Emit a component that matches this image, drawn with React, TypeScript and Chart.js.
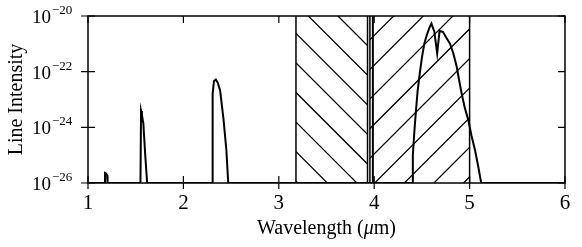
import React, { useEffect, useRef } from "react";
import { Chart, registerables } from "chart.js";

Chart.register(...registerables);

// Wavelength (µm) and line intensity
const wavelength = [
  1.0, 1.175, 1.178, 1.19, 1.2, 1.205,
  1.55, 1.556, 1.565, 1.58, 1.6, 1.62,
  2.3, 2.303, 2.31, 2.32, 2.34, 2.36, 2.385, 2.42, 2.45, 2.47,
  3.983, 3.985, 3.987,
  4.4, 4.405, 4.42, 4.438, 4.455, 4.473, 4.5, 4.525, 4.55, 4.575, 4.6, 4.615, 4.63, 4.66, 4.685, 4.72,
  4.75, 4.795, 4.83, 4.865, 4.89, 4.917, 4.95, 4.987, 5.02, 5.057, 5.09, 5.12, 5.125, 6.0,
];
const intensity = [
  1e-26, 1e-26, 2.3e-26, 2.2e-26, 1.9e-26, 1e-26,
  1e-26, 3.9e-24, 2.8e-24, 1.4e-24, 1e-25, 1e-26,
  1e-26, 3.2e-25, 1.6e-23, 4.5e-23, 5.2e-23, 4.0e-23, 2.1e-23, 2.0e-24, 1.6e-25, 1e-26,
  1e-26, 1e-19, 1e-26,
  1e-26, 1e-25, 6.3e-25, 4.1e-24, 2.0e-23, 6.5e-23, 3.2e-22, 1.0e-21, 2.0e-21, 3.5e-21, 5.4e-21, 3.8e-21, 2.8e-21, 4.5e-22, 2.9e-21, 2.7e-21,
  1.8e-21, 1.0e-21, 4.5e-22, 1.5e-22, 5.0e-23, 1.6e-23, 5.0e-24, 1.8e-24, 5.0e-25, 1.5e-25, 4.0e-26, 1.07e-26, 1e-26, 1e-26,
];

// Shaded bands (µm) and their hatch directions
const bandStart = [3.18, 3.955];
const bandEnd = [3.93, 5.0];
const bandHatch = ["\\", "/"];

const xTicks = [1, 2, 3, 4, 5, 6];
const xTickLabels = ["1", "2", "3", "4", "5", "6"];
const yTicks = [1e-26, 1e-24, 1e-22, 1e-20];
const yTickExponents = ["\u221226", "\u221224", "\u221222", "\u221220"];

const xTitle = ["Wavelength (", "\u03bc", "m)"];
const yTitle = "Line Intensity";

const SERIF = '"Liberation Serif", "DejaVu Serif", serif';

const decorPlugin = {
  id: "decor",
  beforeDatasetsDraw(chart: any) {
    const { ctx, chartArea } = chart;
    const xs = chart.scales.x;
    const { top, bottom } = chartArea;
    bandStart.forEach((s, i) => {
      const x0 = xs.getPixelForValue(s);
      const x1 = xs.getPixelForValue(bandEnd[i]);
      ctx.save();
      ctx.beginPath();
      ctx.rect(x0, top, x1 - x0, bottom - top);
      ctx.clip();
      ctx.strokeStyle = "#000";
      ctx.lineWidth = 1.25;
      ctx.beginPath();
      const S = 29.6;
      if (bandHatch[i] === "\\") {
        // lines y - x = c
        const c0 = -262.7;
        const cMin = top - x1;
        const cMax = bottom - x0;
        let k = Math.floor((cMin - c0) / S);
        for (let c = c0 + k * S; c <= cMax + S; c += S) {
          ctx.moveTo(x0 - 5, x0 - 5 + c);
          ctx.lineTo(x1 + 5, x1 + 5 + c);
        }
      } else {
        // lines x + y = c
        const c0 = 409.7;
        const cMin = x0 + top;
        const cMax = x1 + bottom;
        let k = Math.floor((cMin - c0) / S);
        for (let c = c0 + k * S; c <= cMax + S; c += S) {
          ctx.moveTo(x0 - 5, c - (x0 - 5));
          ctx.lineTo(x1 + 5, c - (x1 + 5));
        }
      }
      ctx.stroke();
      ctx.restore();
      ctx.save();
      ctx.strokeStyle = "#000";
      ctx.lineWidth = 1.5;
      ctx.beginPath();
      ctx.moveTo(x0, top);
      ctx.lineTo(x0, bottom);
      ctx.moveTo(x1, top);
      ctx.lineTo(x1, bottom);
      ctx.stroke();
      ctx.restore();
    });
  },
  afterDatasetsDraw(chart: any) {
    const { ctx, chartArea } = chart;
    const xs = chart.scales.x;
    const ys = chart.scales.y;
    const { left, right, top, bottom } = chartArea;
    ctx.save();
    ctx.strokeStyle = "#000";
    ctx.lineWidth = 1.5;
    ctx.strokeRect(left, top, right - left, bottom - top);
    ctx.lineWidth = 1.2;
    ctx.beginPath();
    xTicks.forEach((v) => {
      const x = xs.getPixelForValue(v);
      ctx.moveTo(x, bottom - 7);
      ctx.lineTo(x, bottom + 6);
      ctx.moveTo(x, top);
      ctx.lineTo(x, top + 7);
    });
    yTicks.forEach((v) => {
      const y = ys.getPixelForValue(v);
      ctx.moveTo(left - 7, y);
      ctx.lineTo(left + 7, y);
      ctx.moveTo(right - 7, y);
      ctx.lineTo(right, y);
    });
    ctx.stroke();

    ctx.fillStyle = "#000";
    ctx.textBaseline = "alphabetic";
    // x tick labels
    ctx.font = `21px ${SERIF}`;
    ctx.textAlign = "center";
    xTicks.forEach((v, i) => {
      ctx.fillText(xTickLabels[i], xs.getPixelForValue(v), bottom + 25.5);
    });
    // y tick labels: 10 with superscript exponent
    yTicks.forEach((v, i) => {
      const y = ys.getPixelForValue(v);
      ctx.font = `19px ${SERIF}`;
      ctx.textAlign = "right";
      ctx.fillText("10", left - 37, y + 7);
      ctx.font = `13px ${SERIF}`;
      ctx.textAlign = "left";
      ctx.fillText(yTickExponents[i], left - 36, y - 2);
    });
    // x title
    ctx.font = `20px ${SERIF}`;
    const w0 = ctx.measureText(xTitle[0]).width;
    const w2 = ctx.measureText(xTitle[2]).width;
    ctx.font = `italic 20px ${SERIF}`;
    const w1 = ctx.measureText(xTitle[1]).width;
    const cx = (left + right) / 2;
    let tx = cx - (w0 + w1 + w2) / 2;
    ctx.textAlign = "left";
    ctx.font = `20px ${SERIF}`;
    ctx.fillText(xTitle[0], tx, 233.5);
    tx += w0;
    ctx.font = `italic 20px ${SERIF}`;
    ctx.fillText(xTitle[1], tx, 233.5);
    tx += w1;
    ctx.font = `20px ${SERIF}`;
    ctx.fillText(xTitle[2], tx, 233.5);
    // y title
    ctx.translate(21.6, (top + bottom) / 2);
    ctx.rotate(-Math.PI / 2);
    ctx.textAlign = "center";
    ctx.fillText(yTitle, 0, 0);
    ctx.restore();
  },
};

export default function App() {
  const ref = useRef<HTMLCanvasElement>(null);
  useEffect(() => {
    if (!ref.current) return;
    const chart = new Chart(ref.current, {
      type: "line",
      data: {
        datasets: [
          {
            data: wavelength.map((w, i) => ({ x: w, y: intensity[i] })),
            borderColor: "#000",
            borderWidth: 2,
            pointRadius: 0,
            tension: 0,
            fill: false,
          },
        ],
      },
      options: {
        responsive: false,
        animation: false,
        events: [],
        layout: { padding: { left: 88, right: 17, top: 16, bottom: 64 } },
        scales: {
          x: { type: "linear", min: 1, max: 6, display: false },
          y: { type: "logarithmic", min: 1e-26, max: 1e-20, display: false },
        },
        plugins: { legend: { display: false }, tooltip: { enabled: false } },
      },
      plugins: [decorPlugin],
    });
    return () => chart.destroy();
  }, []);
  return (
    <div style={{ position: "fixed", left: 0, top: 0, width: 582, height: 247, background: "#fff" }}>
      <canvas ref={ref} width={582} height={247} />
    </div>
  );
}
